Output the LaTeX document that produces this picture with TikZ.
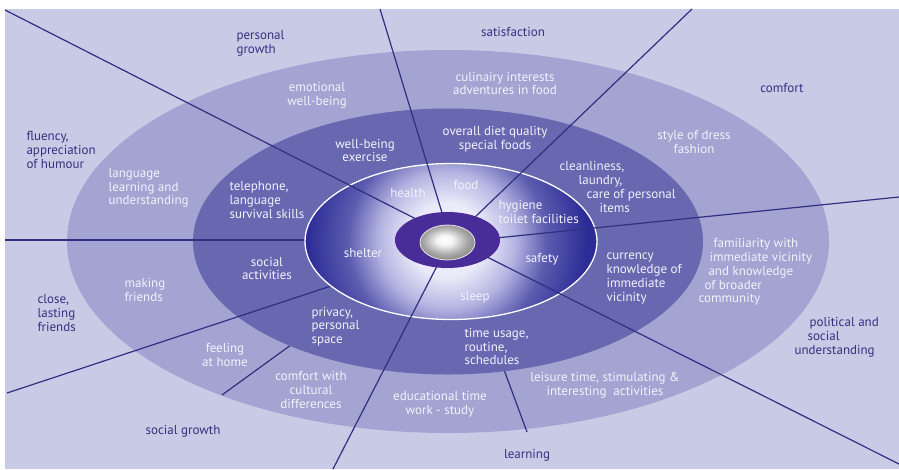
\documentclass[tikz,border=0pt]{standalone}
\usepackage{fontspec}
\setmainfont{PT Sans}
\definecolor{bg}{RGB}{201,202,230}
\definecolor{bandA}{RGB}{163,164,209}
\definecolor{bandB}{RGB}{103,104,176}
\definecolor{corein}{RGB}{234,234,249}
\definecolor{coremid}{RGB}{180,180,226}
\definecolor{coredark}{RGB}{92,92,176}
\definecolor{coreout}{RGB}{44,44,150}
\definecolor{ringc}{RGB}{74,44,152}
\definecolor{spokec}{RGB}{48,48,128}
\definecolor{navy}{RGB}{50,50,125}
\definecolor{wtext}{RGB}{242,242,252}
\pgfdeclareradialshading{coreshade}{\pgfpoint{0bp}{0bp}}{color(0bp)=(corein); color(6bp)=(corein); color(11bp)=(coremid); color(16bp)=(coredark); color(22.5bp)=(coreout); color(50bp)=(coreout)}
\pgfdeclareradialshading{sphereshade}{\pgfpoint{-3bp}{4bp}}{color(0bp)=(white); color(7bp)=(white!92!gray); color(20bp)=(gray!70); color(25bp)=(gray!85); color(50bp)=(gray!85)}
\begin{document}
\begin{tikzpicture}[x=1pt,y=-1pt,
  outl/.style={text=navy,font=\fontsize{13}{13.8}\selectfont},
  inl/.style={text=wtext,font=\fontsize{13}{13.8}\selectfont},
  spoke/.style={draw=spokec,line width=1.2pt}]
\useasboundingbox (0,0) rectangle (899,469);
\fill[white] (0,0) rectangle (899,469);
\fill[bg] (5,9) rectangle (899,469);
% bands
\coordinate (hub) at (448,241.5);
\fill[bandA] (hub) ellipse [x radius=381pt, y radius=191.5pt];
% short separators in outer band
\coordinate (a9) at (295,342); \coordinate (b9) at (222,395);
\coordinate (a10) at (503,367); \coordinate (b10) at (527,432);
\draw[spoke] (a9) -- (b9);
\draw[spoke] (a10) -- (b10);
\fill[bandB] (hub) ellipse [x radius=255pt, y radius=133pt];
% spokes ending at core
\coordinate (o7) at (5,240); \coordinate (i7) at (320,240);
\coordinate (o8) at (7,393); \coordinate (i8) at (340,283);
\draw[spoke] (o7) -- (i7);
\draw[spoke] (o8) -- (i8);
% core
\coordinate (corec) at (451,241.5);
\begin{scope}
\clip (corec) ellipse [x radius=146pt, y radius=78pt];
\shade[shading=coreshade] (447,240) circle [radius=155pt];
\end{scope}
\draw[white,line width=1.3pt] (corec) ellipse [x radius=146pt, y radius=78pt];
% spokes to the ring
\coordinate (o1) at (5,10);   \coordinate (i1) at (418,220);
\coordinate (o2) at (380,9);  \coordinate (i2) at (443,216);
\coordinate (o3) at (692,9);  \coordinate (i3) at (474,218);
\coordinate (o4) at (899,197);\coordinate (i4) at (496,238);
\coordinate (o5) at (899,464);\coordinate (i5) at (488,257.5);
\coordinate (o6) at (333,469);\coordinate (i6) at (437,266);
\foreach \k in {1,...,6} {\draw[spoke] (o\k) -- (i\k);}
% ring and sphere
\coordinate (ringc) at (447.5,240);
\fill[ringc] (ringc) ellipse [x radius=52.5pt, y radius=28pt];
\coordinate (sph) at (447.5,242.5);
\shade[shading=sphereshade] (sph) ellipse [x radius=27.5pt, y radius=17.5pt];
\draw[white!80!gray,line width=0.8pt] (sph) ellipse [x radius=27.5pt, y radius=17.5pt];
% outer labels
\node[outl,align=left,anchor=west] (pg) at (233,43.5) {personal\\growth};
\node[outl] (sat) at (513,32) {satisfaction};
\node[outl] (com) at (782,88) {comfort};
\node[outl,align=left,anchor=west] (flu) at (23,150) {fluency,\\appreciation\\of humour};
\node[outl,align=left,anchor=west] (clo) at (34,313) {close,\\lasting\\friends};
\node[outl] (sg) at (183,431) {social growth};
\node[outl] (lea) at (527,455) {learning};
\node[outl,align=left,anchor=west] (pol) at (791,337.5) {\hspace*{15pt}political and\\\hspace*{13pt}social\\understanding};
% outer band labels
\node[inl,align=center] (emo) at (317,95) {emotional\\well-being};
\node[inl,align=center] (cul) at (505,83.5) {culinairy interests\\adventures in food};
\node[inl,align=center] (sty) at (694,142) {style of dress\\fashion};
\node[inl,align=left,anchor=west] (lan) at (105,188) {language\\learning and\\understanding};
\node[inl,align=left,anchor=west] (mak) at (121,290) {making\\friends};
\node[inl,align=center] (fee) at (225,355) {feeling\\at home};
\node[inl,align=center] (cwc) at (311,390) {comfort with\\cultural\\differences};
\node[inl,align=center] (edu) at (440,404.5) {educational time\\work - study};
\node[inl,align=center] (lei) at (605,385) {leisure time, stimulating \&\\interesting\ \ activities};
\node[inl,align=left,anchor=west] (fam) at (695,272) {\hspace*{15pt}familiarity with\\\hspace*{11pt}immediate vicinity\\\hspace*{10pt}and knowledge\\\hspace*{6pt}of broader\\community};
% middle band labels
\node[inl,align=center] (wbe) at (365,150.5) {well-being\\exercise};
\node[inl,align=center] (ove) at (495,139.5) {overall diet quality\\special foods};
\node[inl,align=left,anchor=west] (cle) at (556,187) {cleanliness,\\\hspace*{19pt}laundry,\\\hspace*{27pt}care of personal\\\hspace*{40pt}items};
\node[inl,align=left,anchor=west] (tel) at (226,200) {telephone,\\language\\survival skills};
\node[inl,align=center] (soc) at (267,268.5) {social\\activities};
\node[inl,align=left,anchor=west] (pri) at (308,326.5) {privacy,\\personal\\space};
\node[inl,align=left,anchor=west] (tim) at (461,346.5) {time usage,\\routine,\\schedules};
\node[inl,align=left,anchor=west] (cur) at (603,278.5) {currency\\knowledge of\\immediate\\vicinity};
% core labels
\node[inl] (hea) at (408,193) {health};
\node[inl] (foo) at (466,185) {food};
\node[inl,align=left,anchor=west] (hyg) at (495,212) {hygiene\\toilet facilities};
\node[inl] (she) at (363,253) {shelter};
\node[inl] (saf) at (542,259) {safety};
\node[inl] (sle) at (475,297) {sleep};
\end{tikzpicture}
\end{document}
